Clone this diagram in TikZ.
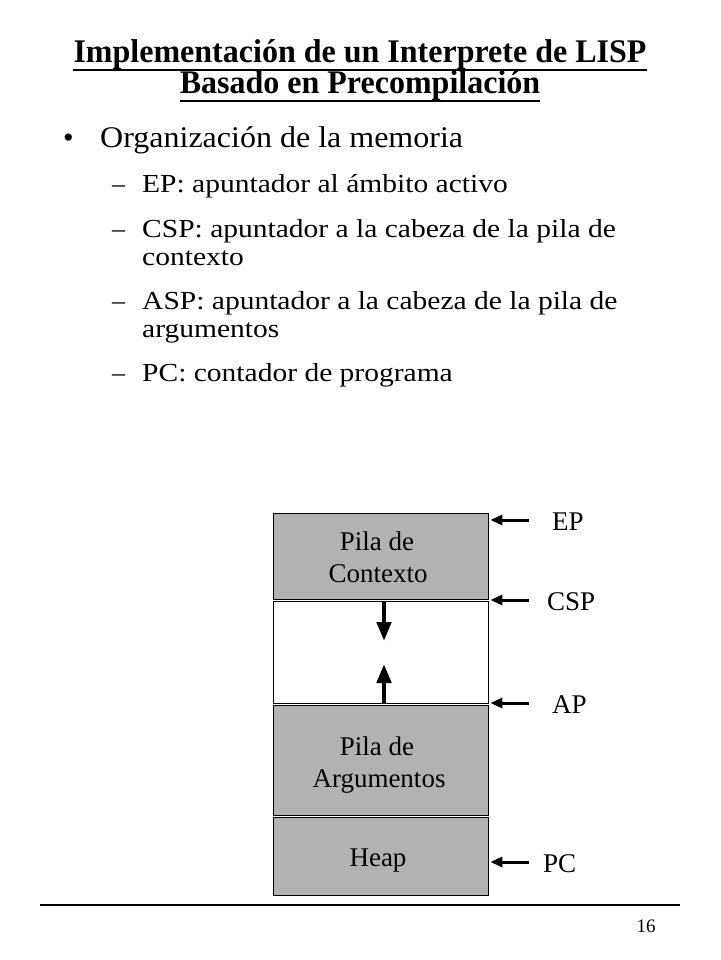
\documentclass[tikz,border=0pt]{standalone}
\usepackage{fontspec}
\usepackage{graphicx}
\setmainfont{Liberation Serif}
\usetikzlibrary{arrows.meta}
\definecolor{boxgray}{RGB}{178,178,178}
\newcommand\mystretch[2]{\scalebox{#1}[1]{#2}}
\tikzset{
  membox/.style={draw=black, line width=0.8pt, fill=boxgray, minimum width=215pt, inner sep=0pt},
  freebox/.style={draw=black, line width=0.8pt, fill=white, minimum width=215pt, inner sep=0pt},
  boxtxt/.style={font=\fontsize{27}{32}\selectfont, anchor=base, inner sep=0pt},
  reglabel/.style={font=\fontsize{27}{32}\selectfont, anchor=base west, inner sep=0pt},
  ptr/.style={line width=3pt, -{Triangle[length=12pt,width=10pt]}},
  growarrow/.style={line width=4.5pt, -{Triangle[length=19pt,width=14pt]}},
  titletxt/.style={font=\fontsize{33}{36}\selectfont\bfseries, anchor=base, inner sep=0pt},
  uline/.style={line width=2.6pt},
  bodytxt/.style={font=\fontsize{30}{36}\selectfont, anchor=base west, inner sep=0pt},
  subtxt/.style={font=\fontsize{26}{30}\selectfont, anchor=base west, inner sep=0pt},
}
\begin{document}
\begin{tikzpicture}[x=1pt,y=-1pt]
\useasboundingbox (0,0) rectangle (720,960);
% title
\node[titletxt] (t1) at (360,63) {\mystretch{0.97}{Implementación de un Interprete de LISP}};
\node[titletxt] (t2) at (360,94) {\mystretch{0.97}{Basado en Precompilación}};
\draw[uline] ([yshift=-7pt]t1.base west) -- ([yshift=-7pt]t1.base east);
\draw[uline] ([yshift=-7pt]t2.base west) -- ([yshift=-7pt]t2.base east);
% bullets
\node[bodytxt] (b0) at (63,148) {•};
\node[bodytxt] (b1) at (100,148) {\mystretch{1.067}{Organización de la memoria}};
\node[subtxt] (d1) at (112,193) {–};
\node[subtxt] (s1) at (142,193) {\mystretch{1.135}{EP: apuntador al ámbito activo}};
\node[subtxt] (d2) at (112,237) {–};
\node[subtxt] (s2) at (142,237) {\mystretch{1.135}{CSP: apuntador a la cabeza de la pila de}};
\node[subtxt] (s2b) at (142,265) {\mystretch{1.135}{contexto}};
\node[subtxt] (d3) at (112,309) {–};
\node[subtxt] (s3) at (142,309) {\mystretch{1.135}{ASP: apuntador a la cabeza de la pila de}};
\node[subtxt] (s3b) at (142,337) {\mystretch{1.135}{argumentos}};
\node[subtxt] (d4) at (112,381) {–};
\node[subtxt] (s4) at (142,381) {\mystretch{1.135}{PC: contador de programa}};
% memory boxes
\node[membox, minimum height=86pt] (ctx) at (380.5,556) {};
\node[freebox, minimum height=102pt] (free) at (380.5,652) {};
\node[membox, minimum height=110pt] (args) at (380.5,760) {};
\node[membox, minimum height=78pt] (heap) at (380.5,856) {};
\node[boxtxt] (ctxt1) at (377,550) {Pila de};
\node[boxtxt] (ctxt2) at (378,582) {Contexto};
\node[boxtxt] (argt1) at (377,755) {Pila de};
\node[boxtxt] (argt2) at (379,787) {Argumentos};
\node[boxtxt] (heapt) at (378,866) {Heap};
% growth arrows
\coordinate (dnTip) at (384,641);
\coordinate (upTip) at (384,664);
\draw[growarrow] (free.north -| dnTip) -- (dnTip);
\draw[growarrow] (free.south -| upTip) -- (upTip);
% register labels
\node[reglabel] (ep) at (552,530) {EP};
\node[reglabel] (csp) at (547,610) {CSP};
\node[reglabel] (ap) at (552,713) {AP};
\node[reglabel] (pc) at (543,872) {PC};
\coordinate (epS) at (529,520);
\coordinate (cspS) at (529,600);
\coordinate (apS) at (529,703);
\coordinate (pcS) at (529,862);
\draw[ptr] (epS) -- ([xshift=2pt]ctx.east |- epS);
\draw[ptr] (cspS) -- ([xshift=2pt]ctx.east |- cspS);
\draw[ptr] (apS) -- ([xshift=2pt]ctx.east |- apS);
\draw[ptr] (pcS) -- ([xshift=2pt]ctx.east |- pcS);
% footer
\coordinate (fl) at (40,905);
\coordinate (fr) at (680,905);
\draw[line width=1.3pt] (fl) -- (fr);
\node[font=\fontsize{19}{22}\selectfont, anchor=base, inner sep=0pt] (pg) at (646,932) {16};
\end{tikzpicture}
\end{document}
